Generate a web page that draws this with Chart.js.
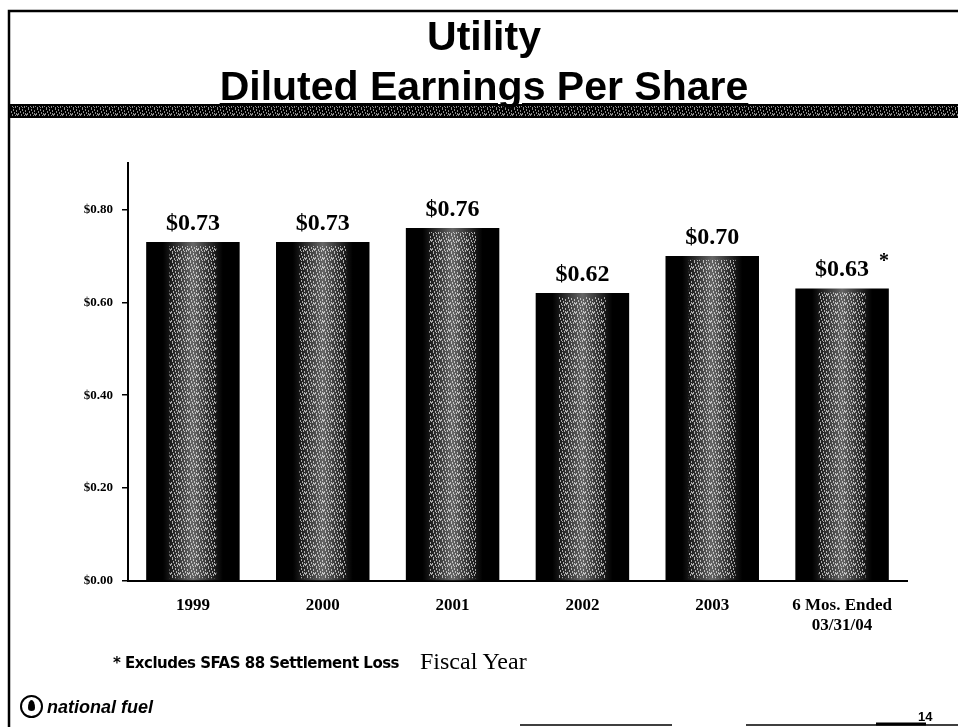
<!DOCTYPE html>
<html>
<head>
<meta charset="utf-8">
<script src="https://cdn.jsdelivr.net/npm/chart.js@4.4.1/dist/chart.umd.min.js"></script>
<style>
  html, body { margin: 0; padding: 0; background: #fff; }
  #wrap { position: relative; width: 958px; height: 727px; overflow: hidden; }
  #chart { position: absolute; left: 0; top: 0; }
  .txt { position: absolute; color: #000; white-space: nowrap; }
  .title { left: 0; width: 968px; text-align: center; font-family: "Liberation Sans", Arial, sans-serif; font-weight: bold; font-size: 41px; line-height: 41px; }
  #t1 { top: 16px; }
  #t2 { top: 66px; text-decoration: underline; text-decoration-thickness: 2px; text-underline-offset: 3px; }
  #note { left: 113px; top: 654px; font-family: "DejaVu Sans", Verdana, sans-serif; font-weight: bold; font-size: 15px; letter-spacing: -0.5px; }
  #fiscal { left: 420px; top: 648px; font-family: "Liberation Serif", "Times New Roman", serif; font-size: 24px; }
  #logo { left: 20px; top: 695px; font-family: "Liberation Sans", Arial, sans-serif; font-weight: bold; font-style: italic; font-size: 18px; }
  #logo span.mark { display: inline-block; width: 19px; height: 19px; border: 2px solid #000; border-radius: 50%; vertical-align: -5px; margin-right: 4px; position: relative; }
  #logo span.mark::after { content: ""; position: absolute; left: 6px; top: 3px; width: 7px; height: 11px; background: #000; border-radius: 50% 50% 50% 50% / 70% 70% 30% 30%; }
  #page { left: 918px; top: 709px; font-family: "Liberation Sans", Arial, sans-serif; font-weight: bold; font-size: 13px; }
</style>
</head>
<body>
<div id="wrap">
  <canvas id="chart" width="958" height="727"></canvas>
  <div class="txt title" id="t1">Utility</div>
  <div class="txt title" id="t2">Diluted Earnings Per Share</div>
  <div class="txt" id="note">* Excludes SFAS 88 Settlement Loss</div>
  <div class="txt" id="fiscal">Fiscal Year</div>
  <div class="txt" id="logo"><span class="mark"></span>national fuel</div>
  <div class="txt" id="page">14</div>
</div>
<script>
// chart data
const categories = ['1999', '2000', '2001', '2002', '2003', ['6 Mos. Ended', '03/31/04']];
const eps = [0.73, 0.73, 0.76, 0.62, 0.70, 0.63];
const valueLabels = ['$0.73', '$0.73', '$0.76', '$0.62', '$0.70', '$0.63'];
const footMarks = ['', '', '', '', '', '*'];
const yTicks = [0, 0.2, 0.4, 0.6, 0.8];

// small speckle tile used for the bar centres and the title strip
function makeSpeckle(color) {
    const c = document.createElement('canvas');
    c.width = 9; c.height = 9;
    const g = c.getContext('2d');
    g.fillStyle = color;
    const dots = [[1,0],[4,1],[7,2],[2,3],[5,4],[0,5],[8,6],[3,6],[6,7],[1,8],[4,8],[7,5]];
    dots.forEach(d => g.fillRect(d[0], d[1], 1, 2));
    return c;
}
const speckle = makeSpeckle('rgba(255,255,255,0.9)');

const barFill = function(context) {
    const chart = context.chart;
    const xs = chart.scales.x;
    if (!xs || !chart.chartArea || context.type !== 'data') return '#000';
    const cx = xs.getPixelForValue(context.dataIndex);
    const w = (xs.right - xs.left) / categories.length * 0.72;
    if (!isFinite(cx) || !isFinite(w) || w <= 0) return '#000';
    const g = chart.ctx.createLinearGradient(cx - w / 2, 0, cx + w / 2, 0);
    g.addColorStop(0, '#000');
    g.addColorStop(0.18, '#000');
    g.addColorStop(0.5, '#666');
    g.addColorStop(0.82, '#000');
    g.addColorStop(1, '#000');
    return g;
};

const pagePlugin = {
    id: 'page',
    beforeDraw(chart) {
        const ctx = chart.ctx;
        ctx.save();
        ctx.fillStyle = '#fff';
        ctx.fillRect(0, 0, chart.width, chart.height);
        // frame
        ctx.strokeStyle = '#000';
        ctx.lineWidth = 2.5;
        ctx.beginPath();
        ctx.moveTo(9, 727); ctx.lineTo(9, 11); ctx.lineTo(958, 11);
        ctx.stroke();
        ctx.lineWidth = 1.5;
        ctx.beginPath();
        ctx.moveTo(520, 725); ctx.lineTo(672, 725);
        ctx.moveTo(746, 725); ctx.lineTo(958, 725);
        ctx.stroke();
        ctx.lineWidth = 3;
        ctx.beginPath();
        ctx.moveTo(876, 724); ctx.lineTo(926, 724);
        ctx.stroke();
        // textured strip under the title
        ctx.fillStyle = '#000';
        ctx.fillRect(9, 104, 949, 14);
        ctx.globalAlpha = 0.6;
        ctx.fillStyle = ctx.createPattern(speckle, 'repeat');
        ctx.fillRect(11, 106, 947, 10);
        ctx.restore();
    },
    afterDatasetsDraw(chart) {
        const ctx = chart.ctx;
        const meta = chart.getDatasetMeta(0);
        ctx.save();
        meta.data.forEach((bar, i) => {
            // speckles in the lit middle of each bar
            const w = bar.width * 0.5;
            ctx.globalAlpha = 0.7;
            ctx.fillStyle = ctx.createPattern(speckle, 'repeat');
            ctx.fillRect(bar.x - w / 2, bar.y + 4, w, bar.base - bar.y - 6);
            ctx.globalAlpha = 1;
            // value label
            ctx.fillStyle = '#000';
            ctx.font = 'bold 24px "Liberation Serif", "Times New Roman", serif';
            ctx.textAlign = 'center';
            ctx.textBaseline = 'alphabetic';
            ctx.fillText(valueLabels[i], bar.x, bar.y - 12);
            if (footMarks[i]) {
                ctx.font = 'bold 20px "Liberation Serif", serif';
                ctx.fillText(footMarks[i], bar.x + 42, bar.y - 21);
            }
        });
        ctx.restore();
    }
};

new Chart(document.getElementById('chart'), {
    type: 'bar',
    data: {
        labels: categories,
        datasets: [{
            data: eps,
            backgroundColor: barFill,
            borderWidth: 0,
            categoryPercentage: 1,
            barPercentage: 0.72
        }]
    },
    options: {
        responsive: false,
        animation: false,
        layout: { padding: { left: 68, right: 51, top: 163, bottom: 86 } },
        plugins: { legend: { display: false }, tooltip: { enabled: false } },
        scales: {
            x: {
                grid: { display: false, drawTicks: false },
                border: { display: true, color: '#000', width: 2 },
                ticks: {
                    color: '#000',
                    padding: 15,
                    maxRotation: 0,
                    font: { family: '"Liberation Serif", "Times New Roman", serif', weight: 'bold', size: 17, lineHeight: 1.15 }
                },
                afterFit(scale) { scale.height = 60; }
            },
            y: {
                min: 0,
                max: 0.9,
                afterBuildTicks(scale) {
                    scale.ticks = yTicks.map(v => ({ value: v }));
                },
                grid: { drawOnChartArea: false, drawTicks: true, tickLength: 6, color: '#000', lineWidth: 1.5 },
                border: { display: true, color: '#000', width: 2 },
                ticks: {
                    color: '#000',
                    padding: 9,
                    font: { family: '"Liberation Serif", "Times New Roman", serif', weight: 'bold', size: 13 },
                    callback: v => '$' + Number(v).toFixed(2)
                },
                afterFit(scale) { scale.width = 60; }
            }
        }
    },
    plugins: [pagePlugin]
});
</script>
</body>
</html>
